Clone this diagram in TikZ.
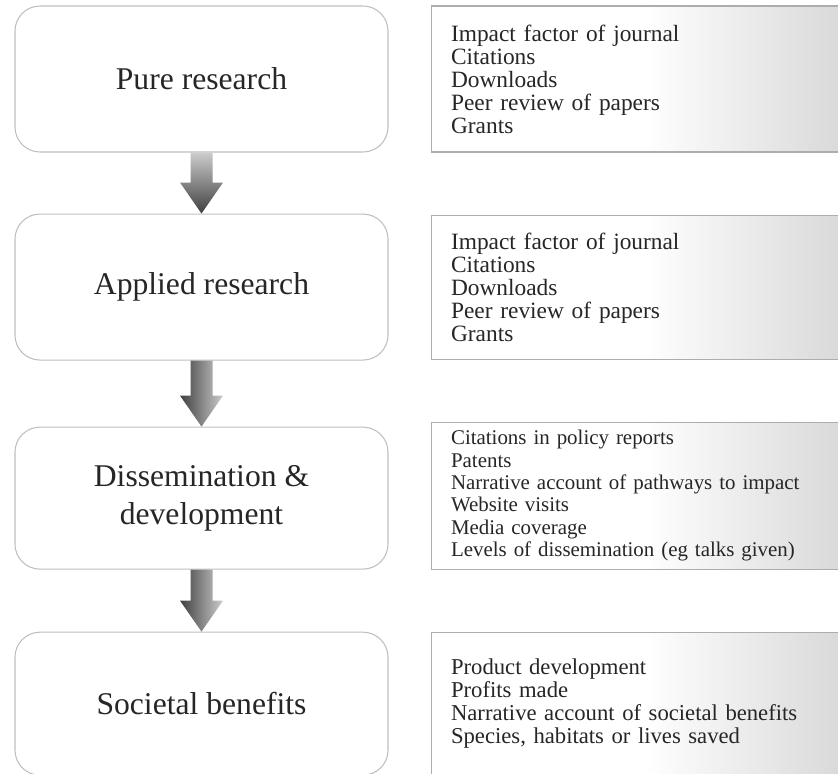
\documentclass[tikz,border=0pt]{standalone}
\usepackage{fontspec}
\setmainfont{Liberation Serif}
\usepackage{xcolor}
\usetikzlibrary{positioning,calc}

\pgfdeclarehorizontalshading{rfade}{100bp}{color(0bp)=(white); color(25bp)=(white);
  color(50bp)=(white); color(75bp)=(black!16); color(100bp)=(black!16)}

% block arrow from the bottom of one box to the top of the next
\newcommand{\blockarrow}[3]{%
  \shade[#3] ($(#1.south)+(-0.22,0)$) -- ($(#1.south)+(0.22,0)$)
    -- ($(#2.north)+(0.22,0.62)$) -- ($(#2.north)+(0.43,0.62)$) -- (#2.north)
    -- ($(#2.north)+(-0.43,0.62)$) -- ($(#2.north)+(-0.22,0.62)$) -- cycle;}

\begin{document}
\begin{tikzpicture}[
  stagebox/.style={draw=black!25,line width=0.6pt,rounded corners=0.5cm,fill=white,
                   minimum width=7.46cm,align=center,text=black!85,
                   font=\fontsize{18}{21.6}\selectfont},
  metricbox/.style={draw=black!32,line width=0.6pt,shading=rfade,anchor=west,
                    minimum width=8.5cm,text width=7.7cm,inner xsep=0.38cm,
                    align=left,text=black!85},
  vshade/.style={top color=black!20,bottom color=black!75},
  hshade/.style={left color=black!75,right color=black!20}]
  \clip (0,0) rectangle (16.76,-15.46);
  % stages
  \node[stagebox,minimum height=2.92cm] (pure) at (4.03,-1.58) {Pure research};
  \node[stagebox,minimum height=2.92cm,below=1.22cm of pure] (applied) {Applied research};
  \node[stagebox,minimum height=2.84cm,below=1.32cm of applied] (dissem) {Dissemination \&\\development};
  \node[stagebox,minimum height=2.86cm,below=1.24cm of dissem] (societal) {Societal benefits};
  % metrics
  \node[metricbox,minimum height=2.92cm,right=0.84cm of pure,font=\fontsize{13.3}{13.1}\selectfont] (m-pure)
    {Impact factor of journal\\Citations\\Downloads\\Peer review of papers\\Grants};
  \node[metricbox,minimum height=2.88cm,right=0.84cm of applied,font=\fontsize{13.3}{13.1}\selectfont] (m-applied)
    {Impact factor of journal\\Citations\\Downloads\\Peer review of papers\\Grants};
  \node[metricbox,minimum height=2.94cm,right=0.84cm of dissem,yshift=0.05cm,font=\fontsize{11.9}{12.7}\selectfont] (m-dissem)
    {Citations in policy reports\\Patents\\Narrative account of pathways to impact\\Website visits\\Media coverage\\Levels of dissemination (eg talks given)};
  \node[metricbox,minimum height=2.86cm,right=0.84cm of societal,font=\fontsize{12.9}{13}\selectfont] (m-societal)
    {Product development\\Profits made\\Narrative account of societal benefits\\Species, habitats or lives saved};
  % arrows
  \blockarrow{pure}{applied}{vshade}
  \blockarrow{applied}{dissem}{hshade}
  \blockarrow{dissem}{societal}{hshade}
\end{tikzpicture}
\end{document}
